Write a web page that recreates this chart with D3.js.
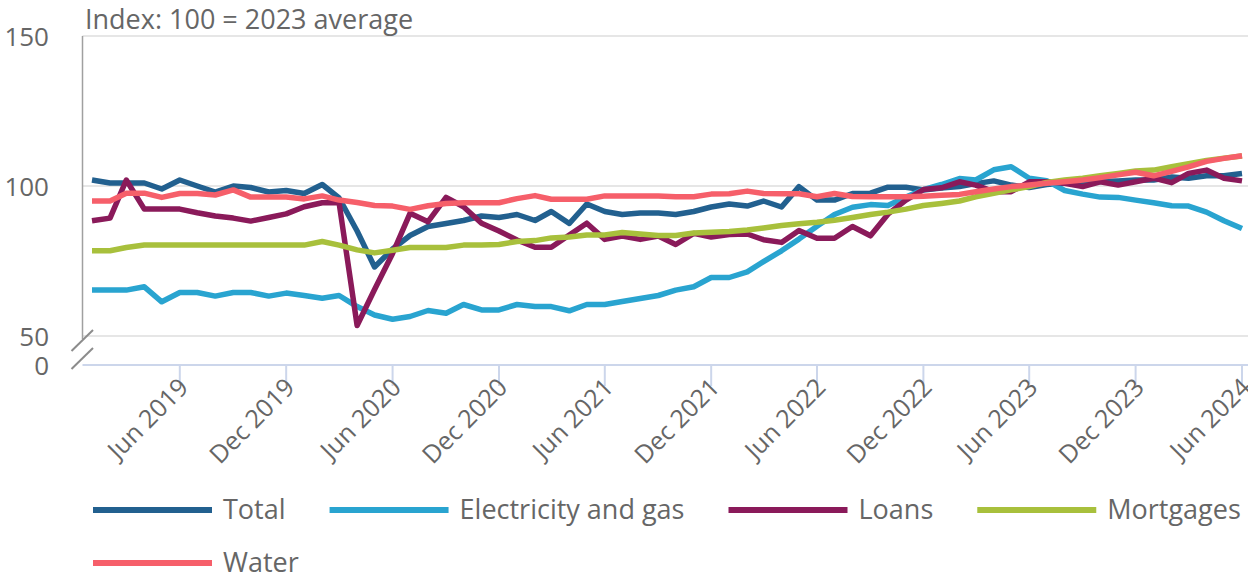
<!DOCTYPE html>
<html><head><meta charset="utf-8">
<script src="https://cdn.jsdelivr.net/npm/d3@7"></script>
<style>
body{margin:0;background:#fff;}
svg{display:block;font-family:"Open Sans",sans-serif;}
</style>
</head><body>
<svg id="chart" width="1248" height="573"></svg>
<script>
// ---- Data (monthly, Jan 2019 – Jun 2024) ----
const startDate = new Date(2019, 0, 1);
const endDate = new Date(2024, 5, 1);
const months = d3.timeMonths(startDate, new Date(2024, 6, 1));

const total = [102,101,101,101,99,102,100,98,100,99.5,98,98.5,97.5,100.5,96,85,73,79,83.5,86.5,87.5,88.5,90,89.5,90.5,88.5,91.5,87.5,94,91.5,90.5,91,91,90.5,91.5,93,94,93.3,95,93,99.8,95.3,95.3,97.5,97.6,99.6,99.6,98.7,99.3,99.8,100.8,101.7,100.3,99.5,100.5,101,101.2,101.5,101.7,102,102,103,102.6,103.4,103.4,104.2];
const electricity = [65.3,65.3,65.3,66.4,61.4,64.5,64.5,63.3,64.5,64.5,63.3,64.3,63.5,62.6,63.5,59.8,57,55.6,56.5,58.5,57.6,60.5,58.7,58.7,60.5,59.8,59.8,58.4,60.5,60.5,61.5,62.5,63.5,65.3,66.4,69.5,69.5,71.4,74.8,78.4,82.3,86.6,90.5,92.9,93.8,93.5,96.3,98.8,100.5,102.5,102,105.4,106.4,102.6,101.8,98.5,97.3,96.3,96.2,95.3,94.4,93.4,93.3,91.3,88.4,85.8];
const loans = [88.4,89.3,102,92.3,92.3,92.3,91.1,90,89.3,88.3,89.5,90.7,93.1,94.4,94.4,53.5,65.5,77.5,90.9,88.1,96.2,93.1,87.6,85,82,79.6,79.6,83.7,87.6,82.2,83.3,82.2,83.3,80.5,84.2,83,83.8,84,82.1,81.2,85.2,82.6,82.6,86.5,83.4,90.6,95.3,98.8,99.4,101.4,100.3,98.1,98.1,101.4,101.4,100.9,99.8,101.4,100.3,101.4,102.6,101.1,104.2,105.3,102.6,101.7];
const mortgages = [78.4,78.4,79.5,80.3,80.3,80.3,80.3,80.3,80.3,80.3,80.3,80.3,80.3,81.5,80.3,78.7,77.7,78.6,79.5,79.5,79.5,80.3,80.3,80.5,81.5,81.8,82.7,83,83.7,83.7,84.5,84,83.5,83.5,84.3,84.6,84.8,85.3,86,86.8,87.4,87.9,88.6,89.5,90.5,91.3,92.3,93.5,94.2,95,96.4,97.6,98.7,99.8,101.2,102,102.6,103.4,104.2,105,105.3,106.4,107.4,108.5,109.3,110];
const water = [95,95,97.6,97.6,96.2,97.5,97.5,97,98.7,96.3,96.3,96.3,95.7,96.7,95.3,94.5,93.5,93.3,92.2,93.4,94.2,94.4,94.4,94.4,95.8,96.8,95.6,95.6,95.6,96.7,96.7,96.7,96.7,96.4,96.4,97.3,97.4,98.3,97.5,97.4,97.4,96.4,97.5,96.5,96.4,96.4,96.4,96.6,96.9,97.2,98.1,99,99.8,100.3,100.9,101.4,102,102.8,103.7,104.6,103.4,104.9,106.4,108.2,109.2,110.1];

const seriesNames = ["Total","Electricity and gas","Loans","Mortgages","Water"];
const seriesColors = ["#22608f","#29a4d0","#8a1a5a","#a8c03c","#f65f6a"];
const seriesValues = [total, electricity, loans, mortgages, water];

const yTicks = [50, 100, 150];
const yBottomLabel = "0";
const xTickDates = [new Date(2019,5,1),new Date(2019,11,1),new Date(2020,5,1),new Date(2020,11,1),new Date(2021,5,1),new Date(2021,11,1),new Date(2022,5,1),new Date(2022,11,1),new Date(2023,5,1),new Date(2023,11,1),new Date(2024,5,1)];
const xTickLabels = ["Jun 2019","Dec 2019","Jun 2020","Dec 2020","Jun 2021","Dec 2021","Jun 2022","Dec 2022","Jun 2023","Dec 2023","Jun 2024"];
const title = "Index: 100 = 2023 average";

// ---- Layout ----
const svg = d3.select("#chart");
const W = 1248;
const plotLeft = 82.5, plotRight = 1248;
const axisY = 365;
const textColor = "#666666";

const x = d3.scaleTime().domain([startDate, endDate]).range([92, 1242]);
const y = d3.scaleLinear().domain([50, 150]).range([336, 36]);

// gridlines
svg.append("g").selectAll("line").data(yTicks).join("line")
  .attr("x1", plotLeft).attr("x2", plotRight)
  .attr("y1", d => y(d)).attr("y2", d => y(d))
  .attr("stroke", "#e6e6e6").attr("stroke-width", 2);

// y labels
svg.append("g").selectAll("text").data(yTicks).join("text")
  .attr("x", 49).attr("y", d => y(d) + 10)
  .attr("text-anchor", "end").attr("font-size", 26).attr("fill", textColor)
  .text(d => d);
svg.append("text").attr("x", 49).attr("y", axisY + 10)
  .attr("text-anchor", "end").attr("font-size", 26).attr("fill", textColor)
  .text(yBottomLabel);

// y axis line with break
svg.append("line").attr("x1", plotLeft).attr("x2", plotLeft)
  .attr("y1", y(150)).attr("y2", 339)
  .attr("stroke", "#a0a0a0").attr("stroke-width", 1.5);
[[71.5, 351, 93, 330], [71.5, 369, 93, 348]].forEach(s => {
  svg.append("line").attr("x1", s[0]).attr("y1", s[1]).attr("x2", s[2]).attr("y2", s[3])
    .attr("stroke", "#8c8c8c").attr("stroke-width", 2);
});

// x axis
svg.append("line").attr("x1", plotLeft).attr("x2", plotRight)
  .attr("y1", axisY).attr("y2", axisY)
  .attr("stroke", "#ccd6eb").attr("stroke-width", 2);
const xt = svg.append("g").selectAll("g").data(xTickDates).join("g")
  .attr("transform", d => `translate(${x(d)},0)`);
xt.append("line").attr("y1", axisY).attr("y2", axisY + 21)
  .attr("stroke", "#ccd6eb").attr("stroke-width", 2);
xt.append("text")
  .attr("transform", `translate(10,${axisY + 24}) rotate(-45)`)
  .attr("text-anchor", "end").attr("font-size", 25).attr("fill", textColor)
  .text((d, i) => xTickLabels[i]);

// lines
const line = d3.line().x((d, i) => x(months[i])).y(d => y(d)).curve(d3.curveLinear);
svg.append("g").selectAll("path").data(seriesValues).join("path")
  .attr("d", d => line(d))
  .attr("fill", "none")
  .attr("stroke", (d, i) => seriesColors[i])
  .attr("stroke-width", 5.5)
  .attr("stroke-linejoin", "round");

// title
svg.append("text").attr("x", 85).attr("y", 29)
  .attr("font-size", 27).attr("fill", textColor).text(title);

// legend
const lg = svg.append("g");
let lx = 93, ly = 510;
const swatchW = 119, gapText = 11, gapItem = 44;
seriesNames.forEach((name, i) => {
  const g = lg.append("g");
  const t = g.append("text").attr("font-size", 27).attr("fill", textColor).text(name);
  const tw = t.node().getComputedTextLength();
  const itemW = swatchW + gapText + tw;
  if (lx + itemW > W) { lx = 93; ly += 53; }
  g.append("line").attr("x1", lx).attr("x2", lx + swatchW).attr("y1", ly).attr("y2", ly)
    .attr("stroke", seriesColors[i]).attr("stroke-width", 6);
  t.attr("x", lx + swatchW + gapText).attr("y", ly + 9);
  lx += itemW + gapItem;
});
</script>
</body></html>
